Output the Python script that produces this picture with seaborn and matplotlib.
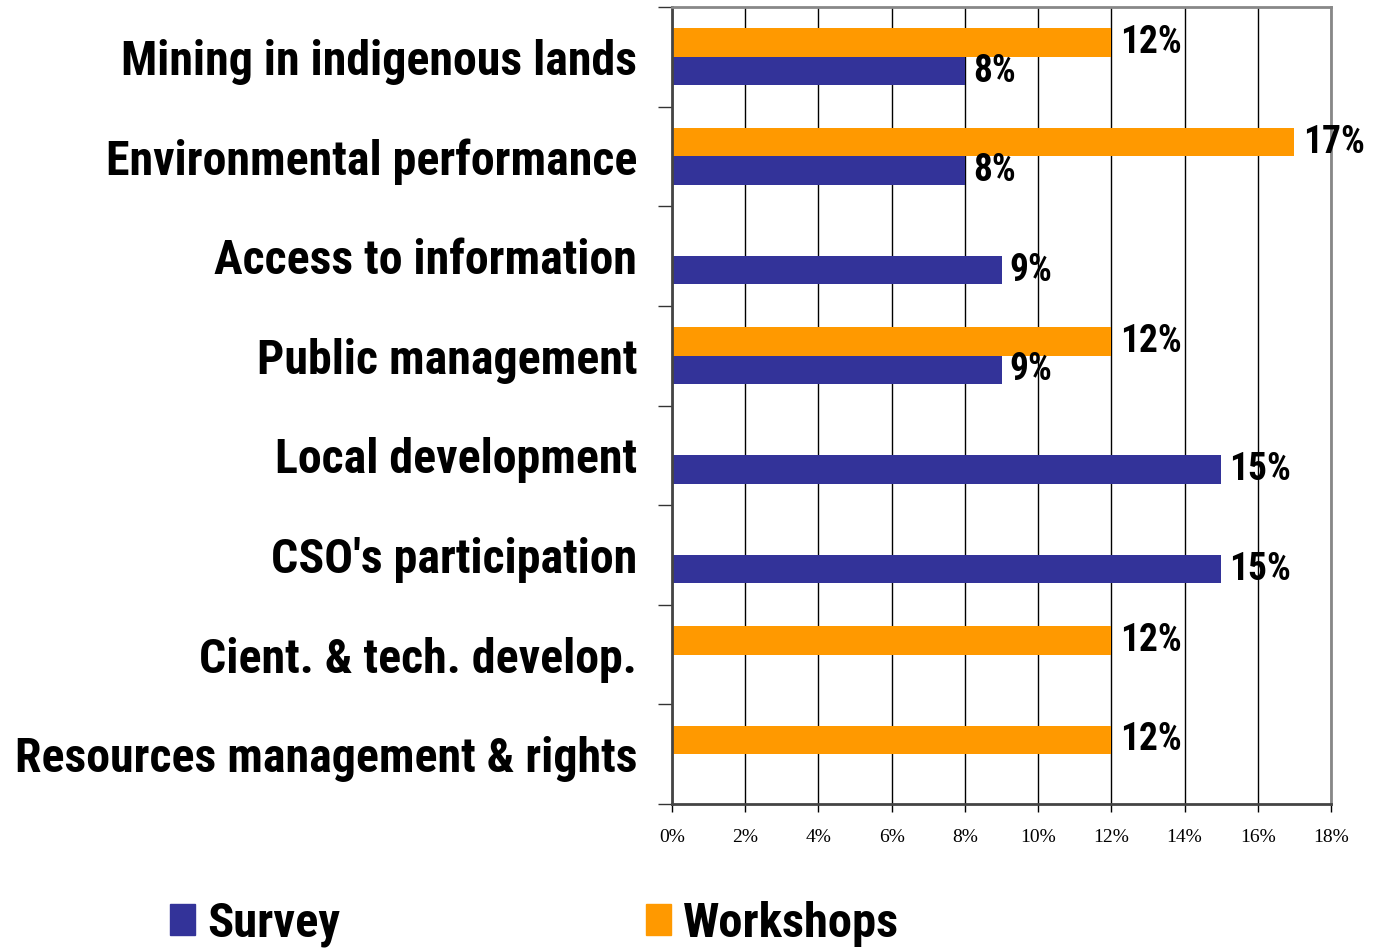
import pandas as pd
import matplotlib.pyplot as plt
import numpy as np
import seaborn as sns
from matplotlib.patches import Patch
from matplotlib.ticker import FuncFormatter, FixedLocator

# Data (percent)
categories = ["Mining in indigenous lands", "Environmental performance",
              "Access to information", "Public management",
              "Local development", "CSO's participation",
              "Cient. & tech. develop.", "Resources management & rights"]
survey = [8, 8, 9, 9, 15, 15, None, None]
workshops = [12, 17, None, 12, None, None, 12, 12]

series_order = ["Workshops", "Survey"]
colors = {"Survey": "#333399", "Workshops": "#FF9900"}

rows = []
for cat, s, w in zip(categories, survey, workshops):
    if w is not None:
        rows.append({"category": cat, "series": "Workshops", "value": w})
    if s is not None:
        rows.append({"category": cat, "series": "Survey", "value": s})
df = pd.DataFrame(rows)

label_font = "Roboto Condensed"

fig = plt.figure(figsize=(13.78, 9.52), dpi=100)
ax = fig.add_axes([0.4877, 0.1555, 0.4782, 0.8371])

sns.barplot(data=df, y="category", x="value", hue="series",
            order=categories, hue_order=series_order, palette=colors,
            width=0.57, orient="h", ax=ax, legend=False, saturation=1)

for cont in ax.containers:
    ax.bar_label(cont, fmt="{:.0f}%", padding=6, fontsize=27,
                 fontweight="bold", fontfamily=label_font)

ax.set_xlim(0, 18)
ax.set_ylim(len(categories) - 0.5, -0.5)
ax.set_xticks(np.arange(0, 19, 2))
ax.xaxis.set_major_formatter(FuncFormatter(lambda v, p: f"{v:.0f}%"))
for t in ax.get_xticklabels():
    t.set_fontfamily("Liberation Serif")
    t.set_fontsize(14)
ax.tick_params(axis="x", length=6, width=1, pad=12, color="black")

ax.yaxis.set_minor_locator(FixedLocator(np.arange(-0.5, len(categories), 1)))
ax.tick_params(axis="y", which="major", length=0, pad=25)
ax.tick_params(axis="y", which="minor", length=10, width=1, color="#333333")
for t in ax.get_yticklabels():
    t.set_fontfamily(label_font)
    t.set_fontweight("bold")
    t.set_fontsize(34.5)

ax.set_xlabel("")
ax.set_ylabel("")
ax.grid(axis="x", color="black", linewidth=1)
ax.set_axisbelow(True)
for side in ["top", "right"]:
    ax.spines[side].set_color("#888888")
    ax.spines[side].set_linewidth(2)
ax.spines["left"].set_color("#444444")
ax.spines["left"].set_linewidth(2)
ax.spines["bottom"].set_color("#444444")
ax.spines["bottom"].set_linewidth(2)

handles = [Patch(color=colors["Survey"], label="Survey"),
           Patch(color=colors["Workshops"], label="Workshops")]
fig.legend(handles=handles, loc="lower center", bbox_to_anchor=(0.388, -0.041),
           ncol=2, frameon=False, handlelength=0.5, handleheight=0.6,
           handletextpad=0.25, columnspacing=6.3,
           prop={"family": label_font, "weight": "bold", "size": 35})

fig.savefig("out.png", dpi=100)
